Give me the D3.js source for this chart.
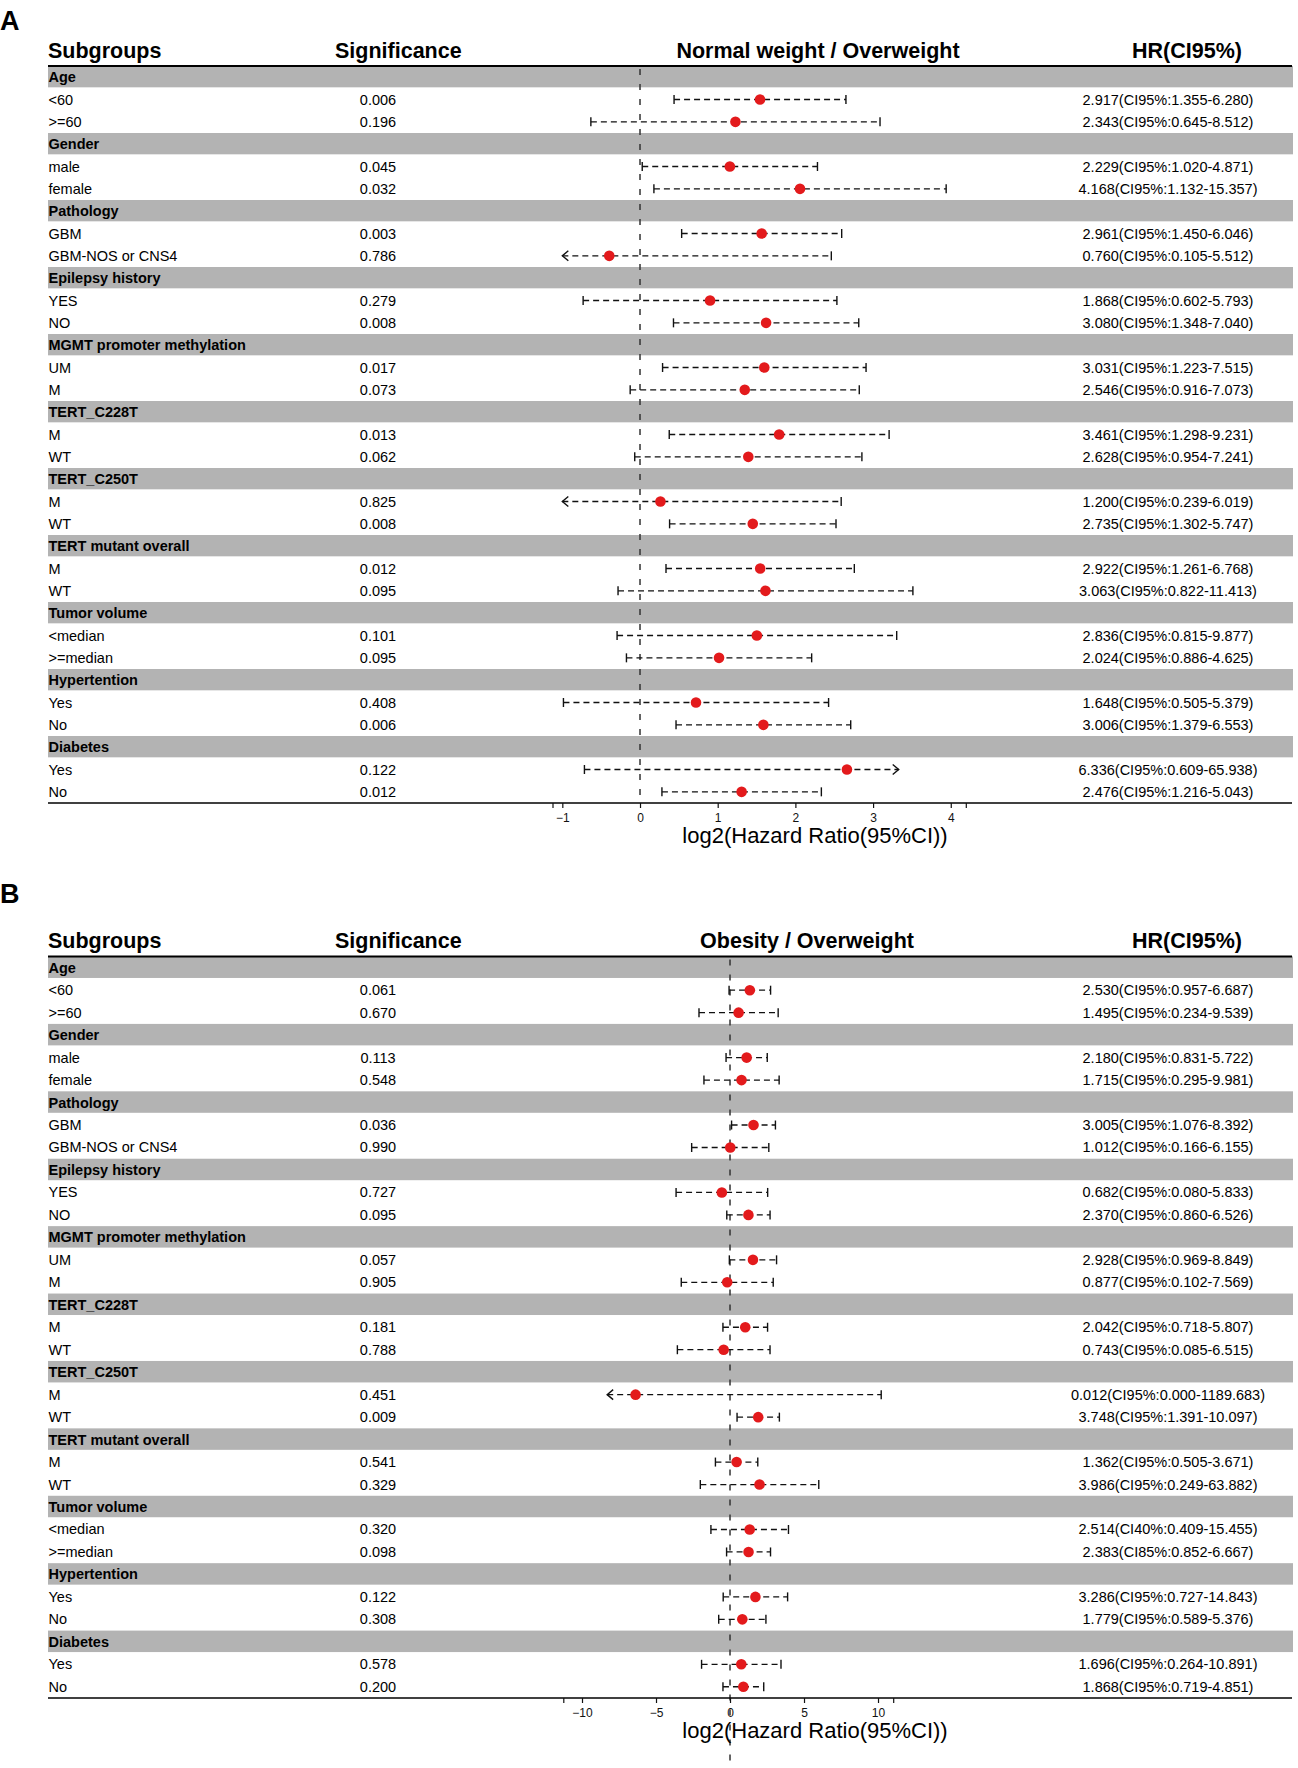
<!DOCTYPE html>
<html><head><meta charset="utf-8">
<script src="https://cdn.jsdelivr.net/npm/d3@7"></script>
<style>body{margin:0;background:#fff}svg{display:block;font-family:"Liberation Sans",Arial,sans-serif}</style>
</head><body><svg id="c" width="1298" height="1768"></svg>
<script>
// ---------------- data ----------------
const groups = ["Age","Gender","Pathology","Epilepsy history","MGMT promoter methylation","TERT_C228T","TERT_C250T","TERT mutant overall","Tumor volume","Hypertention","Diabetes"];
const subgroups = ["<60",">=60","male","female","GBM","GBM-NOS or CNS4","YES","NO","UM","M","M","WT","M","WT","M","WT","<median",">=median","Yes","No","Yes","No"];

// Panel A: Normal weight / Overweight
const pA  = [0.006,0.196,0.045,0.032,0.003,0.786,0.279,0.008,0.017,0.073,0.013,0.062,0.825,0.008,0.012,0.095,0.101,0.095,0.408,0.006,0.122,0.012];
const hrA = [2.917,2.343,2.229,4.168,2.961,0.760,1.868,3.080,3.031,2.546,3.461,2.628,1.200,2.735,2.922,3.063,2.836,2.024,1.648,3.006,6.336,2.476];
const loA = [1.355,0.645,1.020,1.132,1.450,0.105,0.602,1.348,1.223,0.916,1.298,0.954,0.239,1.302,1.261,0.822,0.815,0.886,0.505,1.379,0.609,1.216];
const hiA = [6.280,8.512,4.871,15.357,6.046,5.512,5.793,7.040,7.515,7.073,9.231,7.241,6.019,5.747,6.768,11.413,9.877,4.625,5.379,6.553,65.938,5.043];
const ciA = Array(22).fill("CI95%");

// Panel B: Obesity / Overweight
const pB  = [0.061,0.670,0.113,0.548,0.036,0.990,0.727,0.095,0.057,0.905,0.181,0.788,0.451,0.009,0.541,0.329,0.320,0.098,0.122,0.308,0.578,0.200];
const hrB = [2.530,1.495,2.180,1.715,3.005,1.012,0.682,2.370,2.928,0.877,2.042,0.743,0.012,3.748,1.362,3.986,2.514,2.383,3.286,1.779,1.696,1.868];
const loB = [0.957,0.234,0.831,0.295,1.076,0.166,0.080,0.860,0.969,0.102,0.718,0.085,0.000,1.391,0.505,0.249,0.409,0.852,0.727,0.589,0.264,0.719];
const hiB = [6.687,9.539,5.722,9.981,8.392,6.155,5.833,6.526,8.849,7.569,5.807,6.515,1189.683,10.097,3.671,63.882,15.455,6.667,14.843,5.376,10.891,4.851];
const ciB = ["CI95%","CI95%","CI95%","CI95%","CI95%","CI95%","CI95%","CI95%","CI95%","CI95%","CI95%","CI95%","CI95%","CI95%","CI95%","CI95%","CI40%","CI85%","CI95%","CI95%","CI95%","CI95%"];

const ticksA = [-1,0,1,2,3,4];
const ticksB = [-10,-5,0,5,10];
const limA = [-1.12, 4.2];      // axis limits (log2 HR)
const limB = [-11.23, 11.06];
const arrowA = [-1, 3.33];      // where clipped CIs end with an arrow
const arrowB = [-8.3, 11.06];

const headers = ["Subgroups","Significance","HR(CI95%)"];
const titleA = "Normal weight / Overweight";
const titleB = "Obesity / Overweight";
const axisTitle = "log2(Hazard Ratio(95%CI))";

// ---------------- drawing ----------------
const svg = d3.select("#c");
const f3 = d3.format(".3f");
const BAND = "#b3b3b3", RED = "#e31a1c";

function drawPanel(o){
  const g = svg.append("g");
  g.append("text").attr("x",0).attr("y",o.letterY).attr("font-size",27).attr("font-weight","bold").text(o.letter);

  // header texts
  const hy = o.top - 8.5;
  g.append("text").attr("x",48).attr("y",hy).attr("font-size",21.5).attr("font-weight","bold").text(headers[0]);
  g.append("text").attr("x",335).attr("y",hy).attr("font-size",21.5).attr("font-weight","bold").text(headers[1]);
  g.append("text").attr("x",o.titleX).attr("y",hy).attr("text-anchor","middle").attr("font-size",21.5).attr("font-weight","bold").text(o.title);
  g.append("text").attr("x",1187).attr("y",hy).attr("text-anchor","middle").attr("font-size",21.5).attr("font-weight","bold").text(headers[2]);

  // build rows
  const rows = [];
  let k = 0;
  groups.forEach(gr => {
    rows.push({type:"g", label:gr});
    for (let j=0;j<2;j++){ rows.push({type:"s", i:k}); k++; }
  });
  const y = d3.scaleBand().domain(d3.range(rows.length)).range([o.top, o.bottom]).padding(0);
  const x = d3.scaleLinear().domain(o.lim).range(o.range);

  // bands
  rows.forEach((r,ri) => {
    if (r.type === "g") {
      g.append("rect").attr("x",48).attr("y",y(ri)).attr("width",1245).attr("height",y.bandwidth()-1).attr("fill",BAND);
    }
  });
  // header line
  g.append("line").attr("x1",48).attr("x2",1292).attr("y1",o.top).attr("y2",o.top).attr("stroke","#000").attr("stroke-width",2);

  // reference line
  g.append("line").attr("x1",x(0)).attr("x2",x(0)).attr("y1",o.top+3).attr("y2",o.refEnd)
    .attr("stroke","#333").attr("stroke-width",1.5).attr("stroke-dasharray","6,9");

  rows.forEach((r,ri) => {
    const cy = y(ri) + y.bandwidth()/2;
    if (r.type === "g") {
      g.append("text").attr("x",48.5).attr("y",cy+5).attr("font-size",14.5).attr("font-weight","bold").text(r.label);
      return;
    }
    const i = r.i;
    g.append("text").attr("x",48.5).attr("y",cy+5).attr("font-size",14.5).text(subgroups[i]);
    g.append("text").attr("x",378).attr("y",cy+5).attr("text-anchor","middle").attr("font-size",14.5).text(f3(o.p[i]));
    g.append("text").attr("x",1168).attr("y",cy+5).attr("text-anchor","middle").attr("font-size",14.5)
      .text(`${f3(o.hr[i])}(${o.ci[i]}:${f3(o.lo[i])}-${f3(o.hi[i])})`);

    const l = o.lo[i] > 0 ? Math.log2(o.lo[i]) : -Infinity;
    const h = Math.log2(o.hi[i]);
    const m = Math.log2(o.hr[i]);
    const leftArrow = l < o.lim[0], rightArrow = h > o.lim[1];
    const xl = x(leftArrow ? o.arrow[0] : l), xh = x(rightArrow ? o.arrow[1] : h);
    g.append("line").attr("x1",xl).attr("x2",xh).attr("y1",cy).attr("y2",cy)
      .attr("stroke","#111").attr("stroke-width",1.3).attr("stroke-dasharray","6,4");
    if (leftArrow) {
      g.append("path").attr("d",`M${xl+6},${cy-5}L${xl},${cy}L${xl+6},${cy+5}`).attr("fill","none").attr("stroke","#111").attr("stroke-width",1.4);
    } else {
      g.append("line").attr("x1",xl).attr("x2",xl).attr("y1",cy-4.5).attr("y2",cy+4.5).attr("stroke","#111").attr("stroke-width",1.4);
    }
    if (rightArrow) {
      g.append("path").attr("d",`M${xh-6},${cy-5}L${xh},${cy}L${xh-6},${cy+5}`).attr("fill","none").attr("stroke","#111").attr("stroke-width",1.4);
    } else {
      g.append("line").attr("x1",xh).attr("x2",xh).attr("y1",cy-4.5).attr("y2",cy+4.5).attr("stroke","#111").attr("stroke-width",1.4);
    }
    g.append("circle").attr("cx",x(m)).attr("cy",cy).attr("r",5.3).attr("fill",RED);
  });

  // bottom line + axis
  g.append("line").attr("x1",48).attr("x2",1292).attr("y1",o.bottom).attr("y2",o.bottom).attr("stroke","#000").attr("stroke-width",1.6);
  const ax = g.append("g").attr("transform",`translate(0,${o.bottom})`)
    .call(d3.axisBottom(x).tickValues(o.ticks).tickSize(5).tickPadding(5).tickFormat(d => d3.format("d")(d).replace("-","\u2212")));
  ax.select(".domain").remove();
  ax.selectAll("text").attr("font-size",12).attr("font-family","Liberation Sans, Arial, sans-serif").attr("fill","#111");
  ax.selectAll("line").attr("stroke","#111").attr("stroke-width",1.2);
  // end ticks at the axis limits
  g.selectAll(".endtick").data(o.lim).join("line").attr("class","endtick")
    .attr("x1",d=>x(d)).attr("x2",d=>x(d)).attr("y1",o.bottom).attr("y2",o.bottom+5).attr("stroke","#111").attr("stroke-width",1.2);

  g.append("text").attr("x",815).attr("y",o.bottom+40).attr("text-anchor","middle").attr("font-size",22).text(axisTitle);
}

drawPanel({letter:"A", letterY:30, top:66, bottom:803, title:titleA, titleX:818,
  p:pA, hr:hrA, lo:loA, hi:hiA, ci:ciA, lim:limA, range:[553,966.3], ticks:ticksA, arrow:arrowA, refEnd:803});
drawPanel({letter:"B", letterY:903, top:956.5, bottom:1698, title:titleB, titleX:807,
  p:pB, hr:hrB, lo:loB, hi:hiB, ci:ciB, lim:limB, range:[563.8,893.7], ticks:ticksB, arrow:arrowB, refEnd:1768});
</script></body></html>
